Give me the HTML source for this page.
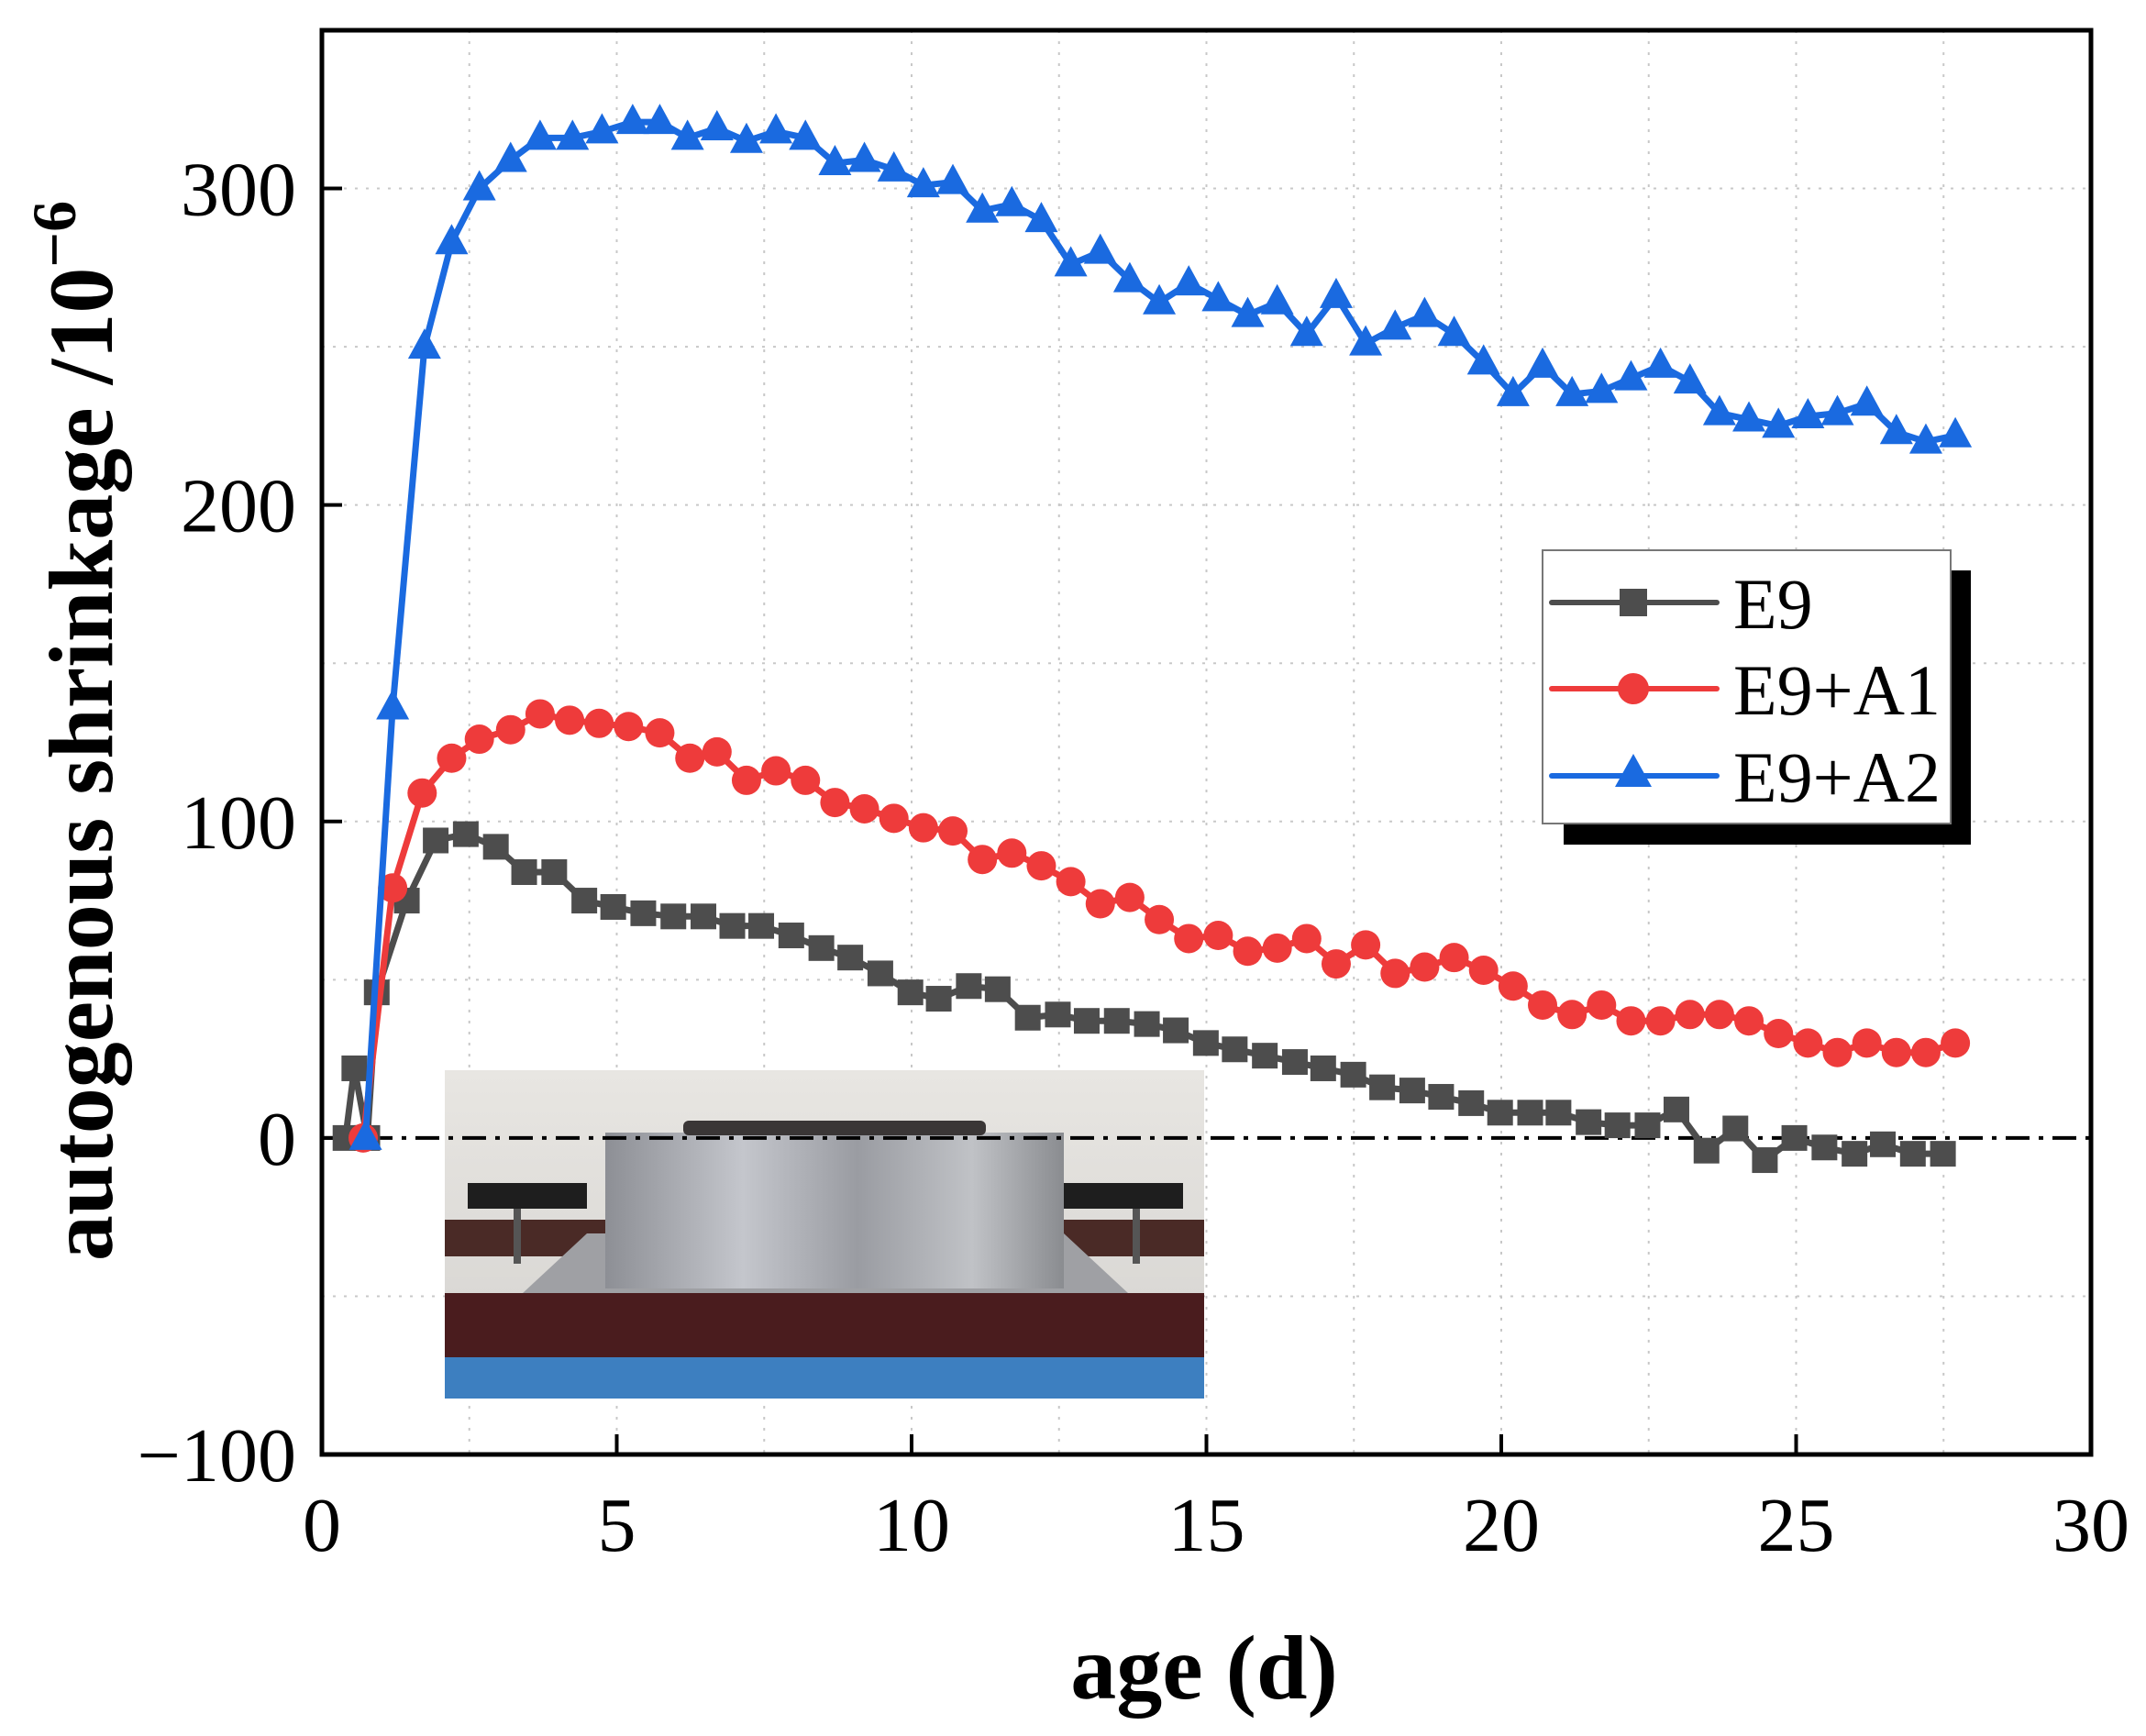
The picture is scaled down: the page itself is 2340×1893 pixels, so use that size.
<!DOCTYPE html>
<html><head><meta charset="utf-8"><style>
html,body{margin:0;padding:0;background:#fff;}
svg{display:block;font-family:"Liberation Serif",serif;}
</style></head><body>
<svg id="chart" width="2340" height="1893" viewBox="0 0 2340 1893" xmlns="http://www.w3.org/2000/svg">
<defs>
<linearGradient id="wall" x1="0" y1="0" x2="0" y2="1"><stop offset="0" stop-color="#e8e6e2"/><stop offset="1" stop-color="#d4d2cf"/></linearGradient>
<linearGradient id="box" x1="0" y1="0" x2="1" y2="0"><stop offset="0" stop-color="#8d8f95"/><stop offset="0.3" stop-color="#c4c6cc"/><stop offset="0.55" stop-color="#9a9ca2"/><stop offset="0.8" stop-color="#c0c2c6"/><stop offset="1" stop-color="#8a8c90"/></linearGradient>
</defs>
<g id="grid"></g>
<g id="inset">
  <rect x="485" y="1167" width="828" height="358" fill="url(#wall)"/>
  <rect x="485" y="1330" width="828" height="40" fill="#4a2a26"/>
  <rect x="485" y="1410" width="828" height="70" fill="#4a1c1e"/>
  <rect x="485" y="1480" width="828" height="45" fill="#3d7fc0"/>
  <polygon points="570,1410 640,1345 1160,1345 1230,1410" fill="#9fa0a4"/>
  <rect x="660" y="1235" width="500" height="170" fill="url(#box)"/>
  <rect x="745" y="1222" width="330" height="16" rx="6" fill="#3a3636"/>
  <rect x="510" y="1290" width="130" height="28" fill="#1e1e1e"/>
  <rect x="1160" y="1290" width="130" height="28" fill="#1e1e1e"/>
  <rect x="560" y="1318" width="8" height="60" fill="#555"/>
  <rect x="1235" y="1318" width="8" height="60" fill="#555"/>
</g>
<g id="axes"></g>
<g id="series"></g>
<g id="legend">
  <rect x="1705" y="622" width="444" height="299" fill="#000"/>
  <rect x="1682" y="600" width="445" height="298" fill="#fff" stroke="#777" stroke-width="2"/>
  <g>
    <line x1="1692" y1="657" x2="1872" y2="657" stroke="#4d4d4d" stroke-width="6" stroke-linecap="round"/>
    <rect x="1766" y="642" width="30" height="30" fill="#4d4d4d"/>
    <text x="1890" y="685" font-size="78" fill="#000">E9</text>
  </g>
  <g>
    <line x1="1692" y1="751" x2="1872" y2="751" stroke="#ee3b3b" stroke-width="6" stroke-linecap="round"/>
    <circle cx="1781" cy="751" r="17" fill="#ee3b3b"/>
    <text x="1890" y="779" font-size="78" fill="#000">E9+A1</text>
  </g>
  <g>
    <line x1="1692" y1="846" x2="1872" y2="846" stroke="#1a6ae0" stroke-width="6" stroke-linecap="round"/>
    <polygon points="1781,822 1801,858 1761,858" fill="#1a6ae0"/>
    <text x="1890" y="874" font-size="78" fill="#000">E9+A2</text>
  </g>
</g>
<text x="1313" y="1852" font-size="100" font-weight="bold" text-anchor="middle">age (d)</text>
<text transform="translate(122,797) rotate(-90)" font-size="100" font-weight="bold" text-anchor="middle">autogenous shrinkage /10<tspan dy="-40" font-size="68">−6</tspan></text>
</svg>
<script>
const xTicks=[0,5,10,15,20,25,30];
const yTicks=[-100,0,100,200,300];
const yTickLabels=["−100","0","100","200","300"];
const e9X=[0.4,0.55,0.77,0.93,1.44,1.93,2.44,2.95,3.43,3.94,4.45,4.94,5.45,5.96,6.47,6.96,7.45,7.96,8.47,8.96,9.47,9.98,10.46,10.97,11.46,11.97,12.48,12.97,13.48,13.99,14.48,14.99,15.48,15.99,16.5,16.98,17.49,17.98,18.49,18.98,19.49,19.98,20.49,20.97,21.48,21.97,22.48,22.97,23.48,23.97,24.47,24.97,25.48,25.99,26.47,26.98,27.49];
const e9Y=[0,22,0,46,75,94,96,92,84,84,75,73,71,70,70,67,67,64,60,57,52,46,44,48,47,38,39,37,37,36,34,30,28,26,24,22,20,16,15,13,11,8,8,8,5,4,4,9,-4,3,-7,0,-3,-5,-2,-5,-5];
const a1X=[0.7,1.2,1.7,2.2,2.67,3.2,3.7,4.2,4.7,5.2,5.73,6.24,6.7,7.2,7.7,8.2,8.7,9.2,9.7,10.2,10.7,11.2,11.7,12.2,12.7,13.2,13.7,14.2,14.7,15.2,15.7,16.2,16.7,17.2,17.7,18.2,18.7,19.2,19.7,20.2,20.7,21.2,21.7,22.2,22.7,23.2,23.7,24.2,24.7,25.2,25.7,26.2,26.7,27.2,27.7];
const a1Y=[0,79,109,120,126,129,134,132,131,130,128,120,122,113,116,113,106,104,101,98,97,88,90,86,81,74,76,69,63,64,59,60,63,55,61,52,54,57,53,48,42,39,42,37,37,39,39,37,33,30,27,30,27,27,30];
const a2X=[0.74,1.2,1.74,2.2,2.67,3.2,3.7,4.25,4.75,5.27,5.73,6.2,6.7,7.2,7.7,8.2,8.7,9.2,9.7,10.2,10.7,11.2,11.7,12.2,12.7,13.2,13.7,14.2,14.7,15.2,15.7,16.2,16.7,17.2,17.7,18.2,18.7,19.2,19.7,20.2,20.7,21.2,21.7,22.2,22.7,23.2,23.7,24.2,24.7,25.2,25.7,26.2,26.7,27.2,27.7];
const a2Y=[0,136,250,283,300,309,316,316,318,321,321,316,319,315,318,316,308,309,306,301,302,293,295,290,276,280,271,264,270,265,260,264,254,266,251,256,260,254,245,235,244,235,236,240,244,239,229,227,225,228,229,232,223,220,222];

const L=351,R=2280,T=33,B=1586;
const sx=v=>L+(v-0)/(30-0)*(R-L);
const sy=v=>B-(v-(-100))/(350-(-100))*(B-T);
const NS="http://www.w3.org/2000/svg";
function mk(tag,attrs,parent){const e=document.createElementNS(NS,tag);for(const k in attrs)e.setAttribute(k,attrs[k]);parent.appendChild(e);return e;}
const grid=document.getElementById('grid'),axes=document.getElementById('axes'),ser=document.getElementById('series');
for(let v=2.5;v<30;v+=2.5){const g=mk('line',{x1:sx(v),x2:sx(v),y1:T,y2:B,stroke:'#c8c8c8','stroke-width':2,'stroke-dasharray':'3 9'},grid);

}
for(let v=-50;v<350;v+=50){if(v===0)continue;const g=mk('line',{x1:L,x2:R,y1:sy(v),y2:sy(v),stroke:'#c8c8c8','stroke-width':2,'stroke-dasharray':'3 9'},grid);

}
const zl=mk('line',{x1:L,x2:R,y1:sy(0),y2:sy(0),stroke:'#000','stroke-width':4,'stroke-dasharray':'26 10 5 10'},axes);


const frame=mk('rect',{x:L,y:T,width:R-L,height:B-T,fill:'none',stroke:'#000','stroke-width':5},axes);


xTicks.forEach(v=>{const t=mk('line',{x1:sx(v),x2:sx(v),y1:B,y2:B-22,stroke:'#000','stroke-width':4},axes);


const lb=mk('text',{x:sx(v),y:B+105,'font-size':84,'text-anchor':'middle'},axes);lb.textContent=v;

});
yTicks.forEach((v,i)=>{const t=mk('line',{x1:L,x2:L+22,y1:sy(v),y2:sy(v),stroke:'#000','stroke-width':4},axes);


const lb=mk('text',{x:L-28,y:sy(v)+29,'font-size':84,'text-anchor':'end'},axes);lb.textContent=yTickLabels[i];

});
function drawSeries(xs,ys,color,shape,name){
  const g=mk('g',{},ser);
  
  
  const pl=mk('polyline',{points:xs.map((x,i)=>sx(x)+','+sy(ys[i])).join(' '),fill:'none',stroke:color,'stroke-width':7,'stroke-linejoin':'round'},g);
  
  
  xs.forEach((x,i)=>{const cx=sx(x),cy=sy(ys[i]);let m;
    if(shape==='sq')m=mk('rect',{x:cx-14,y:cy-14,width:28,height:28,fill:color},g);
    else if(shape==='ci')m=mk('circle',{cx:cx,cy:cy,r:16,fill:color},g);
    else m=mk('polygon',{points:`${cx},${cy-20} ${cx+18},${cy+13} ${cx-18},${cy+13}`,fill:color},g);
    
    });
}
drawSeries(e9X,e9Y,'#4d4d4d','sq','series-e9');
drawSeries(a1X,a1Y,'#ee3b3b','ci','series-e9-a1');
drawSeries(a2X,a2Y,'#1a6ae0','tr','series-e9-a2');
</script>
</body></html>
